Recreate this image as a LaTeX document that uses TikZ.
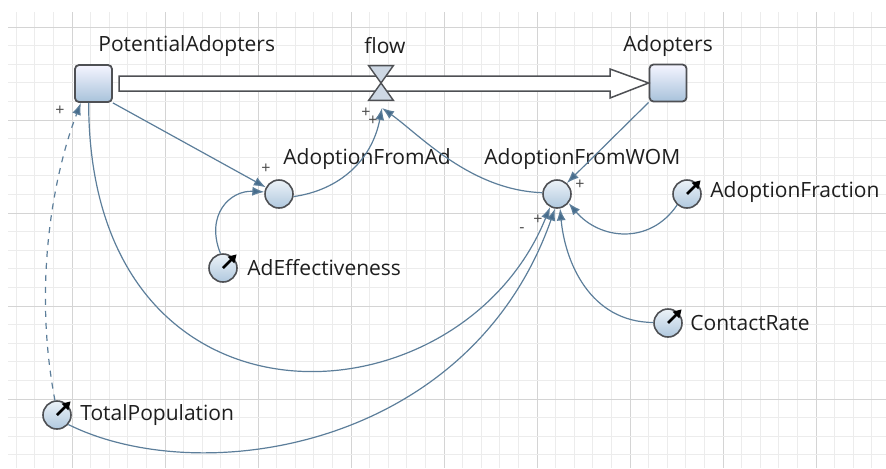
\documentclass[tikz,border=0pt]{standalone}
\usepackage{fontspec}
\setmainfont{Open Sans}
\usetikzlibrary{positioning,arrows.meta,calc,shadings}

\definecolor{linkc}{RGB}{92,126,154}
\definecolor{tipc}{RGB}{70,108,140}
\definecolor{edgec}{RGB}{78,80,84}
\definecolor{gridminor}{RGB}{236,236,236}
\definecolor{gridmajor}{RGB}{212,212,212}
\definecolor{txtc}{RGB}{30,30,30}

\tikzset{
  stock/.style={rectangle,rounded corners=2pt,minimum size=18.5pt,inner sep=0pt,
    draw=edgec,line width=0.9pt,top color=blue!4!white,bottom color={rgb,255:red,168;green,194;blue,218}},
  aux/.style={circle,minimum size=14pt,inner sep=0pt,draw=edgec,line width=0.8pt,
    top color={rgb,255:red,236;green,242;blue,248},bottom color={rgb,255:red,176;green,200;blue,222}},
  const/.style={aux},
  lbl/.style={font=\fontsize{10.5}{12}\selectfont,text=txtc,inner sep=0pt},
  sign/.style={font=\fontsize{8}{9}\selectfont,text=txtc!80,inner sep=0pt},
  link/.style={draw=linkc,line width=0.6pt,-{Latex[length=6pt,width=4.5pt,fill=tipc]}},
  needle/.style={line width=1.3pt,-{Triangle[length=4pt,width=4.5pt]}},
}

\begin{document}
\begin{tikzpicture}[x=0.5pt,y=-0.5pt]
  \useasboundingbox (0,0) rectangle (886,468);
  % grid
  \begin{scope}
    \clip (8,12) rectangle (886,468);
    \foreach \i in {0,...,47}{
      \pgfmathsetmacro\gx{16.2+18.6*\i}
      \pgfmathtruncatemacro\gm{mod(\i,5)}
      \ifnum\gm=3 \draw[gridmajor,line width=0.5pt] (\gx,12) -- (\gx,468);
      \else \draw[gridminor,line width=0.5pt] (\gx,12) -- (\gx,468); \fi
    }
    \foreach \j in {0,...,25}{
      \pgfmathsetmacro\gy{8.4+18.6*\j}
      \pgfmathtruncatemacro\gm{mod(\j,5)}
      \ifnum\gm=1 \draw[gridmajor,line width=0.5pt] (8,\gy) -- (886,\gy);
      \else \draw[gridminor,line width=0.5pt] (8,\gy) -- (886,\gy); \fi
    }
  \end{scope}

  % stocks
  \node[stock] (pa) at (93.5,83.5) {};
  \node[stock] (adopt) at (668,83) {};
  \node[lbl,anchor=west] (paLbl) at (98,46) {PotentialAdopters};
  \node[lbl] (adoptLbl) at (668,46) {Adopters};

  % flow pipe and valve
  \draw[edgec,line width=0.75pt,fill=white] (119,76) -- (610,76) -- (610,69) -- (adopt.west)
    -- (610,98) -- (610,91) -- (119,91) -- cycle;
  \node[minimum width=12pt,minimum height=17pt,inner sep=0pt] (flow) at (381,83) {};
  \draw[edgec,line width=0.7pt,fill={rgb,255:red,206;green,216;blue,228}]
    (flow.north west) -- (flow.north east) -- (flow.center) -- cycle
    (flow.south west) -- (flow.south east) -- (flow.center) -- cycle;
  \node[lbl] (flowLbl) at (385,46) {flow};
  \coordinate (flowIn) at (382,108);

  % auxiliaries
  \node[aux] (afa) at (279,194) {};
  \node[aux] (wom) at (557,194) {};
  \node[lbl,anchor=west] (afaLbl) at (283,159) {AdoptionFromAd};
  \node[lbl,anchor=west] (womLbl) at (484,159) {AdoptionFromWOM};

  % constants
  \node[const] (adeff) at (223,268) {};
  \node[const] (afrac) at (687,194) {};
  \node[const] (crate) at (668,323) {};
  \node[const] (tpop) at (57,415) {};
  \foreach \c in {adeff,afrac,crate,tpop}
    \draw[needle] (\c.center) -- ($(\c.center)!1.3!(\c.north east)$);
  \node[lbl,anchor=west] (adeffLbl) at (247,268) {AdEffectiveness};
  \node[lbl,anchor=west] (afracLbl) at (710,192) {AdoptionFraction};
  \node[lbl,anchor=west] (crateLbl) at (690,323) {ContactRate};
  \node[lbl,anchor=west] (tpopLbl) at (80,415) {TotalPopulation};

  % links
  \draw[link] (pa.south east) -- (afa.153);
  \draw[link] (adeff.100) .. controls (205,215) and (230,190) .. (afa.172);
  \draw[link] (afa.-10) .. controls (340,190) and (372,160) .. (flowIn);
  \draw[link] (wom.175) .. controls (470,190) and (420,135) .. (flowIn);
  \draw[link] (adopt.south west) -- (wom.48);
  \draw[link] (afrac.228) .. controls (650,245) and (600,240) .. (wom.322);
  \draw[link] (crate.178) .. controls (590,322) and (565,262) .. (wom.282);
  \draw[link] (pa.256) .. controls (89,450) and (460,430) .. (wom.242);
  \draw[link] (tpop.320) .. controls (200,490) and (470,450) .. (wom.262);
  \draw[link,dashed] (tpop.98) .. controls (32,280) and (55,170) .. (pa.237);

  % polarities
  \node[sign] (sgn1) at (60,111) {+};
  \node[sign] (sgn2) at (266,169) {+};
  \node[sign] (sgn3) at (366,113) {+};
  \node[sign] (sgn4) at (373,121) {+};
  \node[sign] (sgn5) at (580,185) {+};
  \node[sign] (sgn6) at (522,230) {-};
  \node[sign] (sgn7) at (538,220) {+};
\end{tikzpicture}
\end{document}
